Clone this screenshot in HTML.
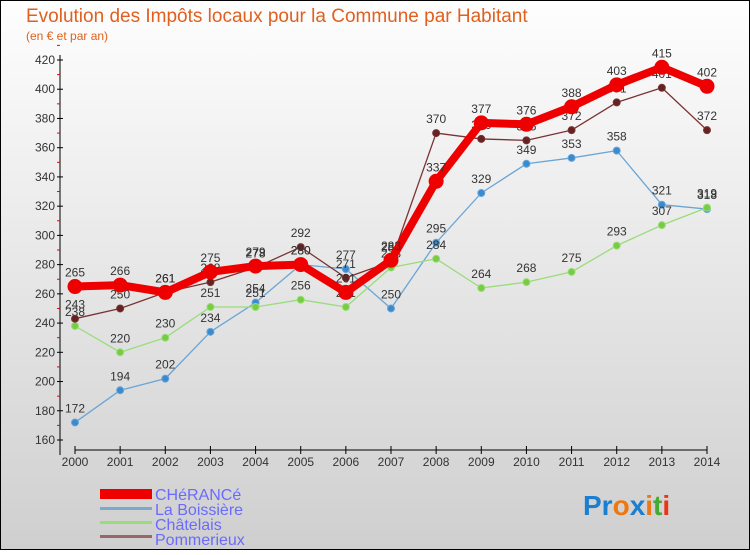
<!DOCTYPE html>
<html><head><meta charset="utf-8"><style>
body{margin:0;background:#fff}
svg text{font-family:"Liberation Sans",sans-serif}
</style></head><body>
<svg width="750" height="550" xmlns="http://www.w3.org/2000/svg">
<defs><linearGradient id="bg" x1="0" y1="0" x2="0" y2="1"><stop offset="0" stop-color="#fefefe"/><stop offset="1" stop-color="#cfcfcf"/></linearGradient></defs>
<rect x="0.5" y="0.5" width="749" height="549" fill="url(#bg)" stroke="#000"/>
<text x="26" y="22" font-size="19" fill="#e0601f">Evolution des Impôts locaux pour la Commune par Habitant</text>
<text x="26" y="40" font-size="12" fill="#e0601f">(en € et par an)</text>
<g id="axes"></g><g id="series"></g>
<g font-size="16" fill="#6a6aff">
<rect x="100" y="489" width="52" height="10" fill="#e00"/>
<text x="155" y="500">CHéRANCé</text>
<rect x="100" y="507" width="52" height="3" fill="#7aa9cc"/>
<text x="155" y="515">La Boissière</text>
<rect x="100" y="521" width="52" height="3" fill="#99dd77"/>
<text x="155" y="530">Châtelais</text>
<rect x="100" y="535" width="52" height="3" fill="#996666"/>
<text x="155" y="545">Pommerieux</text>
</g>
<g font-size="28" font-weight="bold">
<text x="583" y="515" fill="#1a7fd0">Pr<tspan fill="#ee7711">o</tspan><tspan fill="#1a7fd0">x</tspan><tspan fill="#ee7711">i</tspan><tspan fill="#44aa33">t</tspan><tspan fill="#ee3311">i</tspan></text>
</g>
</svg>
<script>
const years=[2000,2001,2002,2003,2004,2005,2006,2007,2008,2009,2010,2011,2012,2013,2014];
const yTicks=[160,180,200,220,240,260,280,300,320,340,360,380,400,420];
const cherance=[265,266,261,275,279,280,261,283,337,377,376,388,403,415,402];
const boissiere=[172,194,202,234,254,280,277,250,295,329,349,353,358,321,318];
const chatelais=[238,220,230,251,251,256,251,278,284,264,268,275,293,307,319];
const pommerieux=[243,250,261,268,278,292,271,282,370,366,365,372,391,401,372];
const NS="http://www.w3.org/2000/svg";
const X=i=>75+i*(707-75)/(years.length-1);
const Y=v=>440-(v-160)*380/260;
function mk(t,a,p){const e=document.createElementNS(NS,t);for(const k in a)e.setAttribute(k,a[k]);p.appendChild(e);return e;}
const ax=document.getElementById('axes');
const yl=mk('line',{x1:60,y1:55,x2:60,y2:455,stroke:'#000'},ax);


yTicks.forEach(v=>{
 mk('line',{x1:57,y1:Y(v),x2:63,y2:Y(v),stroke:'#000'},ax);
 mk('line',{x1:57,y1:Y(v+10),x2:60,y2:Y(v+10),stroke:'#e00'},ax);
 const t=mk('text',{x:55,y:Y(v)+4,'font-size':12,'text-anchor':'end',fill:'#333'},ax);t.textContent=v;
 
 
});
const xl=mk('line',{x1:75,y1:450,x2:707,y2:450,stroke:'#000'},ax);


years.forEach((y,i)=>{
 mk('line',{x1:X(i),y1:446,x2:X(i),y2:454,stroke:'#000'},ax);
 const t=mk('text',{x:X(i),y:466,'font-size':12,'text-anchor':'middle',fill:'#333'},ax);t.textContent=y;
 
 
});
const sg=document.getElementById('series');
function draw(name,data,color,w,r,dot){
 const g=mk('g',{},sg);
 
 
 mk('polyline',{points:data.map((v,i)=>X(i)+','+Y(v)).join(' '),fill:'none',stroke:color,'stroke-width':w,'stroke-linejoin':'round'},g);
 data.forEach((v,i)=>{
  const c=mk('circle',{cx:X(i),cy:Y(v),r:r,fill:dot,stroke:color,'stroke-width':1},g);
  
  
  const t=mk('text',{x:X(i),y:Y(v)-10,'font-size':12,'text-anchor':'middle',fill:'#333'},g);t.textContent=v;
  
  
 });
}
draw('boissiere',boissiere,'#6aa5d5',1.3,3.5,'#3a8ad0');
draw('chatelais',chatelais,'#99dd77',1.3,3.5,'#77cc44');
draw('pommerieux',pommerieux,'#7a3333',1.3,3.5,'#662222');
draw('cherance',cherance,'#ee0000',8,7,'#ee0000');
</script>
</body></html>
